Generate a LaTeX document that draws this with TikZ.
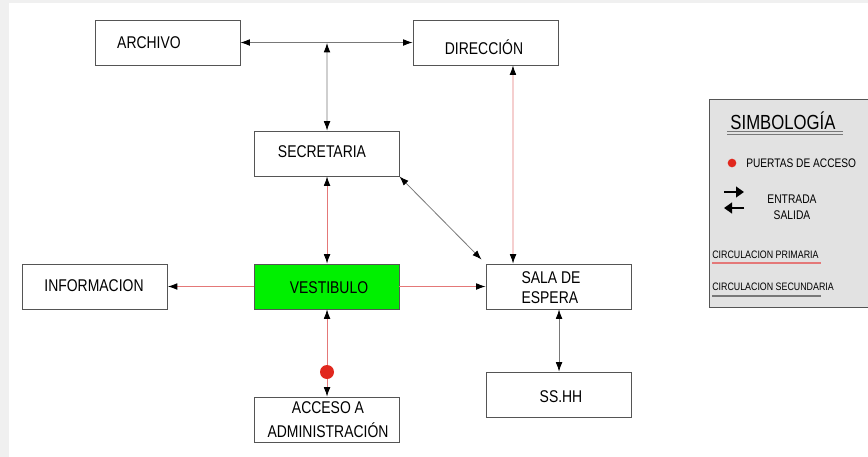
\documentclass[tikz,border=0pt]{standalone}
\usepackage{fontspec}
\setmainfont{Liberation Sans}[FakeStretch=0.82]
\usetikzlibrary{arrows.meta}
\definecolor{redline}{RGB}{228,120,120}
\definecolor{grayline}{RGB}{120,120,120}
\definecolor{boxborder}{RGB}{85,85,85}
\definecolor{dotred}{RGB}{225,40,30}
\definecolor{legfill}{RGB}{226,226,226}
\definecolor{vgreen}{RGB}{0,240,0}
\begin{document}
\begin{tikzpicture}[x=0.75pt,y=-0.75pt,
  roombox/.style={draw=boxborder,line width=0.7pt,fill=white,minimum width=108.75pt,minimum height=33.75pt,inner sep=0pt},
  lbl/.style={font=\fontsize{12.75pt}{15pt}\selectfont,inner sep=0pt,align=center},
  tip/.style={-{Latex[length=7pt,width=5pt,color=black]}},
  dtip/.style={{Latex[length=7pt,width=5pt,color=black]}-{Latex[length=7pt,width=5pt,color=black]}},
  prim/.style={draw=redline,line width=0.6pt},
  sec/.style={draw=grayline,line width=0.6pt},
  legtxt/.style={inner sep=0pt,anchor=west}]
\useasboundingbox (0,0) rectangle (868,457);
\fill[black!6] (0,0) rectangle (868,457);
\fill[white] (9,3) rectangle (868,457);

% boxes
\node[roombox] (arch) at (167.5,42.5) {};
\node[roombox] (dir) at (485.5,42.5) {};
\node[roombox] (secr) at (326.5,153.5) {};
\node[roombox,fill=vgreen] (vest) at (326.5,286.5) {};
\node[roombox] (info) at (95,286.5) {};
\node[roombox] (sala) at (558.5,286.5) {};
\node[roombox] (sshh) at (558.5,394.5) {};
\node[roombox] (acc) at (326.5,419.5) {};

% labels
\node[lbl] (tarch) at (149,43) {ARCHIVO};
\node[lbl] (tdir) at (484,47) {DIRECCIÓN};
\node[lbl] (tsecr) at (322,152) {SECRETARIA};
\node[lbl] (tvest) at (329,288) {VESTIBULO};
\node[lbl] (tinfo) at (94,286) {INFORMACION};
\node[lbl,align=left] (tsala) at (551,288) {SALA DE\\ESPERA};
\node[lbl] (tsshh) at (561,397) {SS.HH};
\node[lbl,font=\fontsize{12.75pt}{18pt}\selectfont] (tacc) at (328,420) {ACCESO A\\ADMINISTRACIÓN};

% connectors
\draw[sec,dtip] (arch.east) -- (dir.west);
\coordinate (junc) at (327,42);
\draw[sec,dtip] ([yshift=-0.75pt]junc) -- ([xshift=0.4pt]secr.north);
\draw[prim,dtip] ([xshift=0.4pt]secr.south) -- ([xshift=0.4pt]vest.north);
\draw[sec,dtip] (secr.south east) -- ([xshift=-3pt,yshift=3pt]sala.north west);
\draw[prim,dtip] ([xshift=20.6pt]dir.south) -- ([xshift=-34.1pt]sala.north);
\draw[prim,tip] (vest.east) -- (sala.west);
\draw[prim,tip] (vest.west) -- (info.east);
\draw[prim,dtip] ([xshift=0.4pt]vest.south) -- ([xshift=0.4pt]acc.north);
\node[circle,fill=dotred,minimum size=10.5pt,inner sep=0pt] (door) at (327,372) {};
\draw[sec,dtip] ([xshift=0.4pt]sala.south) -- ([xshift=0.4pt]sshh.north);

% legend
\node[draw=boxborder,fill=legfill,line width=0.7pt,minimum width=120pt,minimum height=156pt,inner sep=0pt,anchor=north west] (leg) at (709,99) {};
\node[inner sep=0pt,font=\fontsize{15.3pt}{18pt}\selectfont] (lsimb) at (783,121) {SIMBOLOGÍA};
\draw[grayline,line width=0.6pt] (727,131) coordinate (u1) -- (843,131) coordinate (u2);
\draw[grayline,line width=0.6pt] (727,134) coordinate (u3) -- (843,134) coordinate (u4);
\node[circle,fill=dotred,minimum size=6.5pt,inner sep=0pt] (ldot) at (732,163) {};
\node[legtxt,font=\fontsize{9.3pt}{11pt}\selectfont] (lpuer) at (746,163.5) {PUERTAS DE ACCESO};
\draw[line width=2.2pt,-{Triangle[length=6pt,width=8pt]}] (724,192) coordinate (a1) -- (744,192) coordinate (a2);
\draw[line width=2.2pt,-{Triangle[length=6pt,width=8pt]}] (744,208) coordinate (a3) -- (724,208) coordinate (a4);
\node[inner sep=0pt,font=\fontsize{9.4pt}{11pt}\selectfont] (lent) at (792,199) {ENTRADA};
\node[inner sep=0pt,font=\fontsize{9.4pt}{11pt}\selectfont] (lsal) at (792,215) {SALIDA};
\node[legtxt,font=\fontsize{8.1pt}{10pt}\selectfont] (lprim) at (712,255) {CIRCULACION PRIMARIA};
\draw[redline,line width=0.9pt] (712,263) coordinate (p1) -- (821,263) coordinate (p2);
\node[legtxt,font=\fontsize{8.1pt}{10pt}\selectfont] (lsec) at (712,287) {CIRCULACION SECUNDARIA};
\draw[grayline,line width=0.9pt] (712,296) coordinate (s1) -- (821,296) coordinate (s2);
\end{tikzpicture}
\end{document}
